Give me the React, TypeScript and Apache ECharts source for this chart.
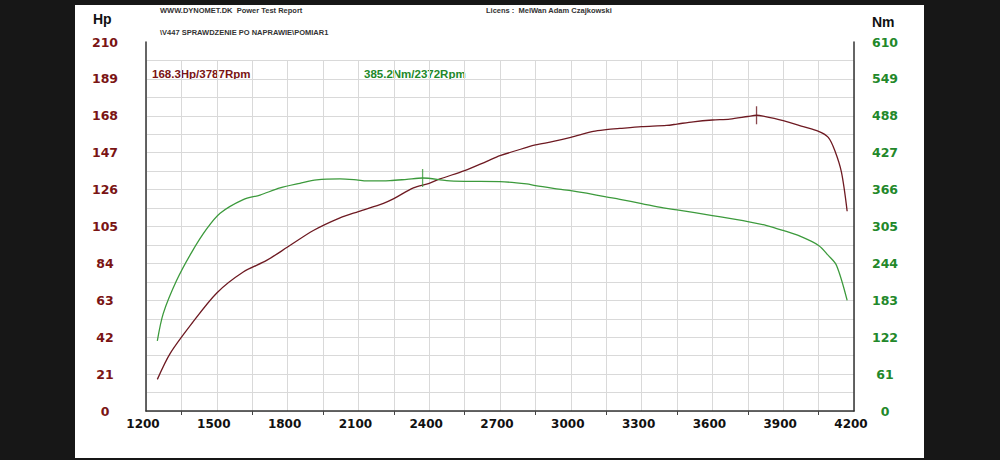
import React, { useEffect, useRef } from "react";
import * as echarts from "echarts";

const hpRpm = [1248, 1302, 1394, 1500, 1612, 1711, 1800, 1909, 2022, 2100, 2206, 2248, 2333, 2400, 2446, 2550, 2644, 2700, 2813, 2850, 2926, 3000, 3095, 3150, 3208, 3300, 3406, 3450, 3519, 3600, 3674, 3750, 3787, 3815, 3900, 3985, 4050, 4091, 4119, 4147, 4171];
const hpValues = [18.0, 32.7, 49.8, 67.2, 79.1, 85.7, 93.3, 102.7, 109.9, 113.5, 118.2, 120.7, 127.0, 129.6, 132.1, 136.8, 142.1, 145.3, 150.0, 151.4, 153.4, 155.7, 159.1, 160.1, 160.8, 161.8, 162.5, 163.3, 164.6, 165.6, 166.1, 167.6, 168.3, 167.8, 165.2, 161.8, 159.1, 155.7, 148.1, 135.8, 113.7];

const tqRpm = [1248, 1273, 1330, 1394, 1457, 1514, 1612, 1683, 1768, 1852, 1923, 2022, 2092, 2135, 2234, 2305, 2372, 2474, 2550, 2700, 2813, 2850, 2926, 3000, 3067, 3150, 3208, 3300, 3392, 3450, 3600, 3750, 3830, 3900, 3971, 4050, 4091, 4126, 4171];
const tqValues = [115.9, 161.0, 216.0, 262.7, 301.0, 327.0, 349.5, 357.0, 368.8, 376.4, 382.0, 383.6, 382.0, 380.3, 380.8, 383.0, 385.2, 380.8, 379.7, 379.2, 375.4, 372.6, 368.2, 364.3, 360.0, 354.0, 350.0, 343.0, 335.8, 332.5, 323.0, 313.2, 306.6, 298.4, 289.0, 273.7, 257.2, 240.7, 183.0];

const hpPeak = [3787, 168.3];
const tqPeak = [2372, 385.2];

const headerLine1 = "WWW.DYNOMET.DK  Power Test Report";
const headerLine2 = "\\V447 SPRAWDZENIE PO NAPRAWIE\\POMIAR1";
const licenseText = "Licens :  MelWan Adam Czajkowski";
const hpPeakText = "168.3Hp/3787Rpm";
const tqPeakText = "385.2Nm/2372Rpm";

const HP_COLOR = "#6e1a22";
const HP_LABEL = "#7a1414";
const TQ_COLOR = "#3c9a3c";
const TQ_LABEL = "#22882a";
const FONT = "DejaVu Sans";

export default function App() {
  const ref = useRef<HTMLDivElement>(null);
  useEffect(() => {
    if (!ref.current) return;
    const chart = echarts.init(ref.current, undefined, { renderer: "svg" });
    const hpData = hpRpm.map((r, i) => [r, hpValues[i]]);
    const tqData = tqRpm.map((r, i) => [r, tqValues[i]]);
    const gridPos = { left: 146, right: 146, bottom: 49 };
    chart.setOption({
      animation: false,
      backgroundColor: "#ffffff",
      grid: [
        { ...gridPos, top: 42 },
        { ...gridPos, top: 61 },
      ],
      xAxis: [
        {
          type: "value",
          gridIndex: 0,
          min: 1200,
          max: 4200,
          interval: 300,
          axisLine: { show: true, onZero: false, lineStyle: { color: "#333", width: 1.5 } },
          axisTick: { show: false },
          minorTick: { show: true, splitNumber: 2, length: 4, lineStyle: { color: "#444", width: 1 } },
          splitLine: { show: false },
          axisLabel: {
            color: "#111",
            fontFamily: FONT,
            fontWeight: "bold",
            fontSize: 12,
            margin: 7,
            padding: [0, 6, 0, 0],
            formatter: (v: number) => String(v),
          },
        },
        {
          type: "value",
          gridIndex: 1,
          min: 1200,
          max: 4200,
          interval: 150,
          axisLine: { show: false },
          axisTick: { show: false },
          axisLabel: { show: false },
          splitLine: { show: true, lineStyle: { color: "#d9d9d9", width: 1 } },
        },
      ],
      yAxis: [
        {
          type: "value",
          gridIndex: 0,
          min: 0,
          max: 210,
          interval: 21,
          position: "left",
          axisLine: { show: true, lineStyle: { color: "#333", width: 1.5 } },
          axisTick: { show: false },
          axisLabel: {
            color: HP_LABEL,
            fontFamily: FONT,
            fontWeight: "bold",
            fontSize: 12.5,
            align: "center",
            margin: 41,
          },
          splitLine: { show: true, showMaxLine: false, lineStyle: { color: "#d9d9d9", width: 1 } },
          minorTick: { show: false, splitNumber: 2 },
          minorSplitLine: { show: true, lineStyle: { color: "#d9d9d9", width: 1 } },
        },
        {
          type: "value",
          gridIndex: 0,
          min: 0,
          max: 610,
          interval: 61,
          position: "right",
          axisLine: { show: true, lineStyle: { color: "#333", width: 1.5 } },
          axisTick: { show: false },
          axisLabel: {
            color: TQ_LABEL,
            fontFamily: FONT,
            fontWeight: "bold",
            fontSize: 12.5,
            align: "center",
            margin: 31,
          },
          splitLine: { show: false },
        },
        {
          type: "value",
          gridIndex: 1,
          min: 0,
          max: 1,
          show: false,
        },
      ],
      series: [
        {
          type: "line",
          xAxisIndex: 0,
          yAxisIndex: 0,
          data: hpData,
          showSymbol: false,
          smooth: 0.3,
          lineStyle: { color: HP_COLOR, width: 1.3 },
          z: 3,
        },
        {
          type: "line",
          xAxisIndex: 0,
          yAxisIndex: 1,
          data: tqData,
          showSymbol: false,
          smooth: 0.3,
          lineStyle: { color: TQ_COLOR, width: 1.3 },
          z: 3,
        },
        {
          type: "scatter",
          xAxisIndex: 0,
          yAxisIndex: 0,
          data: [hpPeak],
          symbol: "rect",
          symbolSize: [1.3, 18],
          itemStyle: { color: HP_COLOR },
          z: 4,
        },
        {
          type: "scatter",
          xAxisIndex: 0,
          yAxisIndex: 1,
          data: [tqPeak],
          symbol: "rect",
          symbolSize: [1.3, 18],
          itemStyle: { color: TQ_COLOR },
          z: 4,
        },
      ],
      graphic: [
        { type: "rect", shape: { x: 0, y: 0, width: 75, height: 460 }, style: { fill: "#171717" }, z: 100 },
        { type: "rect", shape: { x: 924, y: 0, width: 76, height: 460 }, style: { fill: "#171717" }, z: 100 },
        { type: "rect", shape: { x: 0, y: 0, width: 1000, height: 5 }, style: { fill: "#171717" }, z: 100 },
        { type: "rect", shape: { x: 0, y: 458, width: 1000, height: 2 }, style: { fill: "#171717" }, z: 100 },
        {
          type: "text",
          left: 160,
          top: 6,
          style: { text: headerLine1, fill: "#333", font: "bold 7.5px 'Liberation Sans'" },
        },
        {
          type: "text",
          left: 160,
          top: 28,
          style: { text: headerLine2, fill: "#333", font: "bold 7.5px 'Liberation Sans'" },
        },
        {
          type: "text",
          left: 486,
          top: 6,
          style: { text: licenseText, fill: "#333", font: "bold 7.5px 'Liberation Sans'" },
        },
        {
          type: "text",
          left: 93,
          top: 12,
          style: { text: "Hp", fill: "#111", font: "bold 14px 'Liberation Sans'" },
        },
        {
          type: "text",
          left: 872,
          top: 15,
          style: { text: "Nm", fill: "#111", font: "bold 14px 'Liberation Sans'" },
        },
        {
          type: "text",
          left: 152,
          top: 68,
          style: { text: hpPeakText, fill: HP_LABEL, font: "bold 11.5px 'Liberation Sans'" },
        },
        {
          type: "text",
          left: 364,
          top: 68,
          style: { text: tqPeakText, fill: TQ_LABEL, font: "bold 11.5px 'Liberation Sans'" },
        },
      ],
    });
    return () => chart.dispose();
  }, []);
  return (
    <div
      ref={ref}
      style={{ position: "fixed", left: 0, top: 0, width: 1000, height: 460, background: "#fff" }}
    />
  );
}
